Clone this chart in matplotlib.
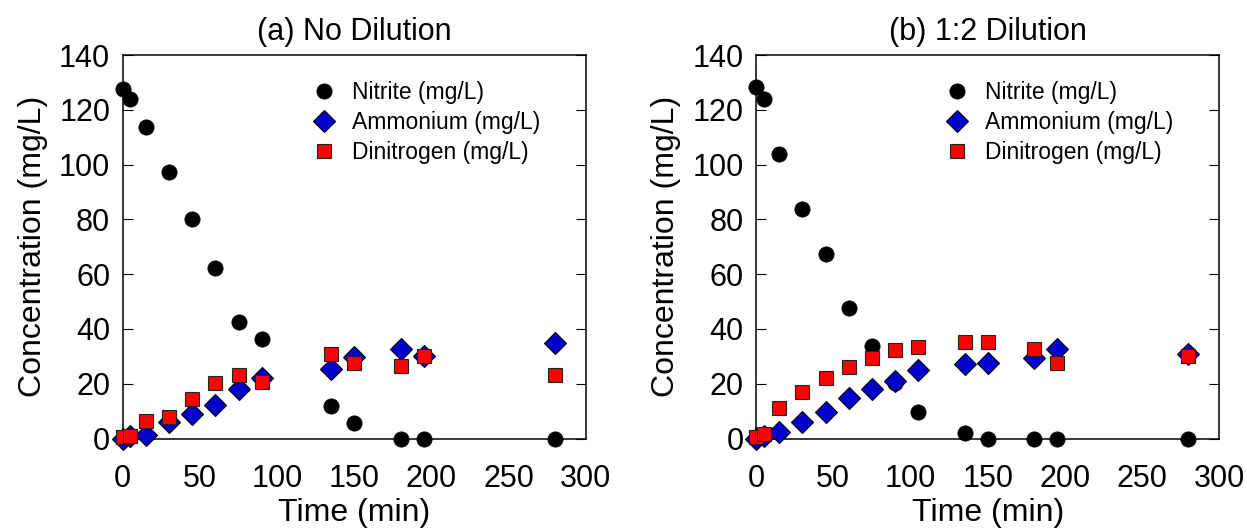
import numpy as np
from matplotlib import pyplot as plt

plt.rcParams['font.family'] = ['Liberation Sans', 'DejaVu Sans']

# (a) No Dilution
time_a = [0, 5, 15, 30, 45, 60, 75, 90, 135, 150, 180, 195, 280]
nitrite_a = [127.7, 124.0, 113.7, 97.4, 80.1, 62.4, 42.5, 36.2, 11.8, 5.8, 0, 0, 0]
ammonium_a = [0, 0.8, 1.2, 6.2, 8.9, 12.1, 18.0, 22.2, 25.3, 29.7, 32.8, 30.0, 34.9]
dinitrogen_a = [0.5, 0.8, 6.3, 7.9, 14.6, 20.1, 23.3, 20.6, 30.9, 27.7, 26.6, 30.1, 23.2]

# (b) 1:2 Dilution
time_b = [0, 5, 15, 30, 45, 60, 75, 90, 105, 135, 150, 180, 195, 280]
nitrite_b = [128.4, 123.8, 103.9, 83.8, 67.4, 47.5, 33.8, 20.1, 9.8, 1.9, 0, 0, 0, 0]
ammonium_b = [0, 1.0, 2.5, 6.1, 9.8, 14.7, 18.0, 21.1, 25.0, 27.1, 27.7, 29.3, 32.7, 30.7]
dinitrogen_b = [0.5, 1.5, 11.0, 17.1, 22.2, 26.0, 29.5, 32.3, 33.3, 35.1, 35.1, 32.6, 27.4, 30.1]

titles = ['(a) No Dilution', '(b) 1:2 Dilution']
xticks = [0, 50, 100, 150, 200, 250, 300]
yticks = [0, 20, 40, 60, 80, 100, 120, 140]

fig = plt.figure(figsize=(12.47, 5.29), dpi=100)
ax_a = fig.add_axes([0.0984, 0.171, 0.3715, 0.725])
ax_b = fig.add_axes([0.6063, 0.171, 0.3715, 0.725])

panels = [
    (ax_a, time_a, nitrite_a, ammonium_a, dinitrogen_a),
    (ax_b, time_b, nitrite_b, ammonium_b, dinitrogen_b),
]

for i, (ax, t, no2, nh4, n2) in enumerate(panels):
    ax.plot(t, no2, 'o', color='black', markersize=11, markeredgecolor='black',
            markeredgewidth=0.5, label='Nitrite (mg/L)', clip_on=False, zorder=3)
    ax.plot(t, nh4, 'D', color='#0000CC', markersize=11, markeredgecolor='black',
            markeredgewidth=0.8, label='Ammonium (mg/L)', clip_on=False, zorder=4)
    ax.plot(t, n2, 's', color='#FF0000', markersize=9.5, markeredgecolor='#222222',
            markeredgewidth=0.8, label='Dinitrogen (mg/L)', clip_on=False, zorder=5)

    ax.set_xlim(0, 300)
    ax.set_ylim(0, 140)
    ax.set_xticks(xticks)
    ax.set_yticks(yticks)
    ax.tick_params(axis='y', direction='in', left=True, right=True, length=7,
                   labelsize=22, pad=9)
    ax.tick_params(axis='x', length=0, labelsize=22, pad=18.5)
    for s in ax.spines.values():
        s.set_linewidth(1.1)

    ax.set_title(titles[i], fontsize=22, pad=11)
    ax.set_xlabel('Time (min)', fontsize=23, labelpad=3)
    ax.set_ylabel('Concentration (mg/L)', fontsize=23, labelpad=8)

    ax.legend(loc='upper left', bbox_to_anchor=(0.405, 0.932), frameon=False,
              fontsize=16.5, handletextpad=0.6, labelspacing=0.3,
              borderaxespad=0, borderpad=0, handlelength=1.2)

fig.savefig('out.png', dpi=100)
